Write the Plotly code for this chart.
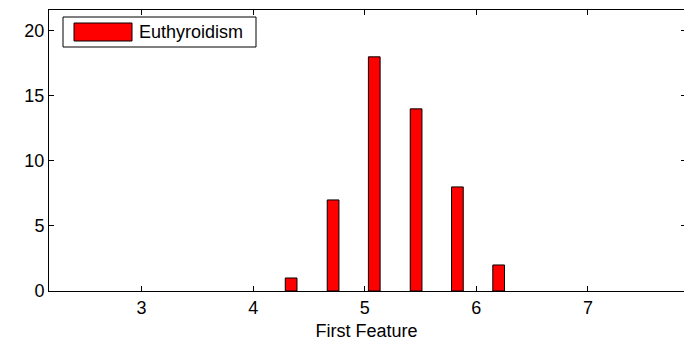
import plotly.graph_objects as go

# Histogram of the first feature for the euthyroid class
bin_centers = [4.34, 4.716, 5.085, 5.46, 5.83, 6.20]
counts = [1, 7, 18, 14, 8, 2]
series_name = "Euthyroidism"
x_ticks = [3, 4, 5, 6, 7]
y_ticks = [0, 5, 10, 15, 20]

L, T, B, R = 49, 10, 50, 0
W, H = 684, 341
pw, ph = W - L - R, H - T - B
y_range = [0, 21.6]

def px_x(p):
    return (p - L) / pw

def px_y(p):
    return (H - B - p) / ph

fig = go.Figure()
fig.add_trace(go.Bar(
    x=bin_centers, y=counts, width=0.105,
    marker=dict(color="#ff0000", line=dict(color="black", width=1)),
    name=series_name, showlegend=False,
))
# empty trace so the right-hand tick axis gets drawn
fig.add_trace(go.Scatter(x=[], y=[], yaxis="y2", showlegend=False, hoverinfo="skip"))

font = dict(family="Liberation Sans, Arial, sans-serif", size=18, color="black")
tick_style = dict(ticks="inside", tickcolor="black", tickwidth=1, showgrid=False, zeroline=False)

fig.update_layout(
    width=W, height=H, margin=dict(l=L, r=R, t=T, b=B),
    paper_bgcolor="white", plot_bgcolor="white",
    xaxis=dict(range=[2.17, 7.861], tickvals=x_ticks, ticklen=5, tickfont=font,
               showline=True, linecolor="black", linewidth=1, mirror="ticks",
               title=dict(text="First Feature", font=font, standoff=8), **tick_style),
    yaxis=dict(range=y_range, tickvals=y_ticks, ticklen=5, tickfont=font,
               showline=True, linecolor="black", linewidth=1, mirror=False, **tick_style),
    yaxis2=dict(range=y_range, tickvals=y_ticks, ticklen=3, showticklabels=False,
                overlaying="y", side="right", showline=False, **tick_style),
    showlegend=False,
    font=font,
)

# Legend box drawn in MATLAB style
fig.add_shape(type="rect", xref="paper", yref="paper",
              x0=px_x(63), x1=px_x(256), y0=px_y(47), y1=px_y(17),
              line=dict(color="black", width=1), fillcolor="white")
fig.add_shape(type="rect", xref="paper", yref="paper",
              x0=px_x(74), x1=px_x(132), y0=px_y(41), y1=px_y(23),
              line=dict(color="black", width=1), fillcolor="#ff0000")
fig.add_annotation(xref="paper", yref="paper", x=px_x(137), y=px_y(32),
                   text=series_name, showarrow=False, xanchor="left", yanchor="middle",
                   font=font)

fig.write_html("out.html")
